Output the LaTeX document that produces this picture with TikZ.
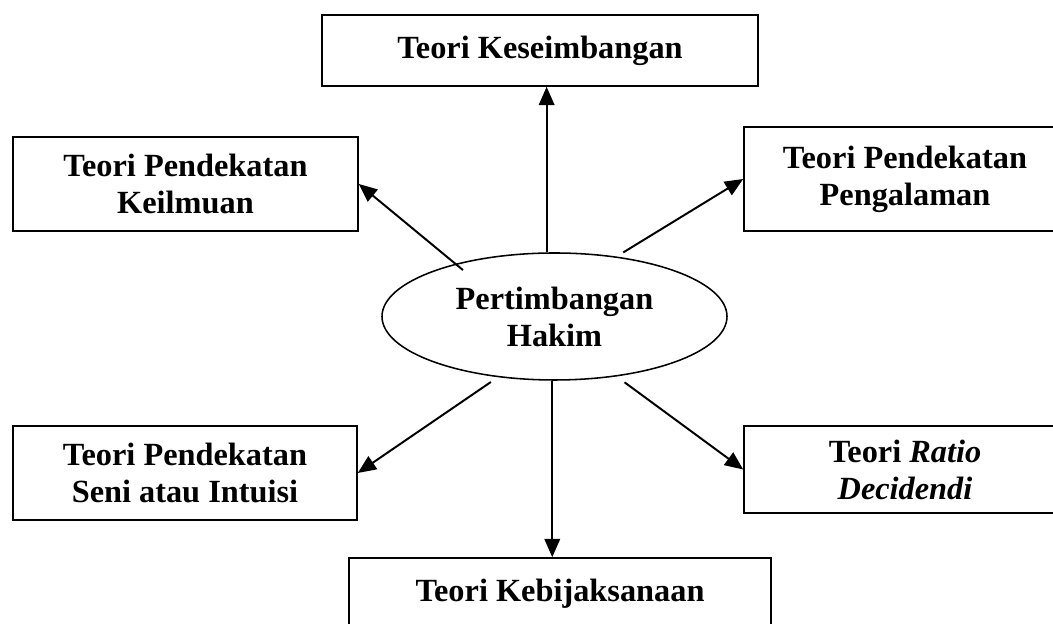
\documentclass[tikz,border=0pt]{standalone}
\usepackage{fontspec}
\setmainfont{Liberation Serif}
\usetikzlibrary{arrows.meta, positioning, shapes.geometric}

\begin{document}
\begin{tikzpicture}[
    box/.style={draw, line width=1.1pt, align=center, inner sep=2pt, font=\fontsize{23}{26.3}\selectfont\bfseries},
    arr/.style={-{Triangle[length=13pt,width=11pt]}, line width=1.4pt}
]
    % Fix the page size
    \useasboundingbox (0,0) rectangle (26.325,15.6);

    % Centre ellipse
    \node[box, ellipse, minimum width=8.625cm, minimum height=3.175cm] (hakim) at (13.8625,7.6875) {Pertimbangan\\Hakim};

    % Theory boxes round it
    \node[box, minimum width=10.9cm, minimum height=1.775cm] (seimbang) at (13.5,14.3375) {Teori Keseimbangan};
    \node[box, minimum width=8.625cm, minimum height=2.35cm] (keilmuan) at (4.6375,11.0) {Teori Pendekatan\\Keilmuan};
    \node[box, minimum width=8.05cm, minimum height=2.6cm] (pengalaman) at (22.625,11.125) {Teori Pendekatan\\Pengalaman};
    \node[box, minimum width=8.6cm, minimum height=2.35cm] (seni) at (4.625,3.775) {Teori Pendekatan\\Seni atau Intuisi};
    \node[box, minimum width=8.05cm, minimum height=2.175cm] (ratio) at (22.625,3.8625) {Teori \textit{Ratio}\\\textit{Decidendi}};
    \node[box, minimum width=10.55cm, minimum height=1.775cm] (bijak) at (14.0,0.7625) {Teori Kebijaksanaan};

    % Arrows out of the ellipse
    \draw[arr] (hakim.97) -- (hakim.97 |- seimbang.south);
    \draw[arr] (hakim.268) -- (hakim.268 |- bijak.north);
    \draw[arr, shorten <=-7pt] (hakim.152) -- (keilmuan.east);
    \draw[arr, shorten <=5.5pt] (hakim.44) -- (pengalaman.west);
    \draw[arr, shorten <=6pt] (hakim.227) -- (seni.east);
    \draw[arr, shorten <=7pt] (hakim.316) -- (ratio.west);
\end{tikzpicture}
\end{document}
